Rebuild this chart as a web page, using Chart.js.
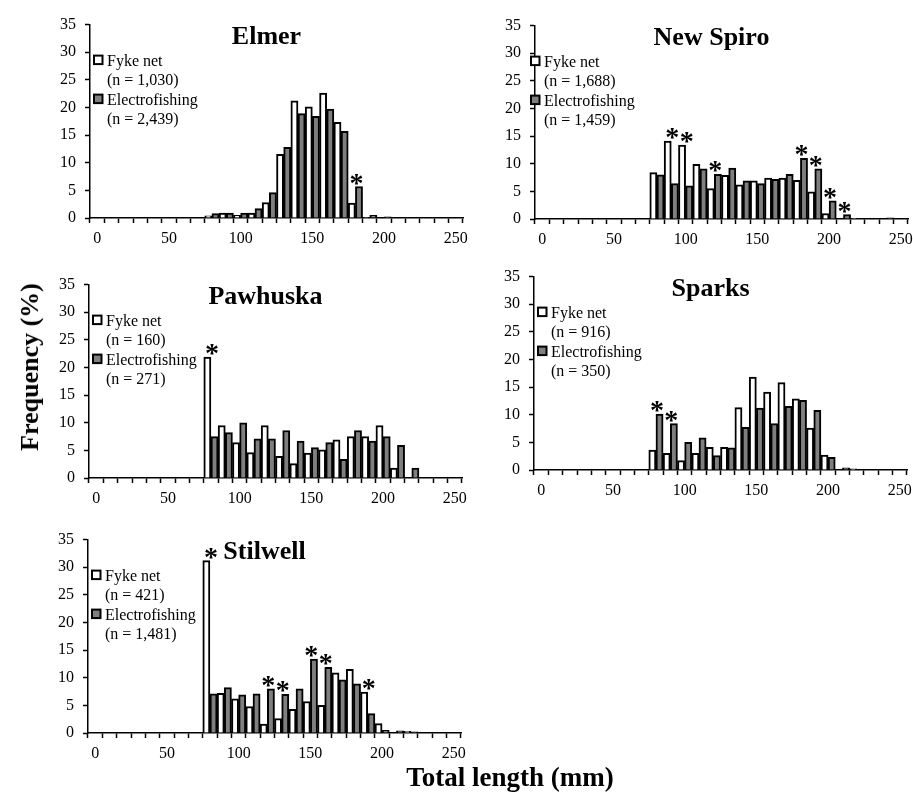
<!DOCTYPE html>
<html>
<head>
<meta charset="utf-8">
<script src="https://cdn.jsdelivr.net/npm/chart.js@4.4.1/dist/chart.umd.min.js"></script>
<style>
body{margin:0;width:913px;height:794px;background:#fff;position:relative;overflow:hidden;font-family:'Liberation Serif',serif}
canvas{position:absolute}
.ylab{position:absolute;left:30px;top:367px;transform:translate(-50%,-50%) rotate(-90deg);font-weight:bold;font-size:26px;white-space:nowrap}
.xlab{position:absolute;left:510px;top:764px;transform:translateX(-50%);font-weight:bold;font-size:27px;line-height:27px;white-space:nowrap}
</style>
</head>
<body>
<canvas id="elmer" width="447" height="247"></canvas>
<canvas id="spiro" width="447" height="247"></canvas>
<canvas id="pawhuska" width="447" height="247"></canvas>
<canvas id="sparks" width="447" height="247"></canvas>
<canvas id="stilwell" width="447" height="247"></canvas>
<div class="ylab">Frequency (%)</div>
<div class="xlab">Total length (mm)</div>
<script>
// 10 mm length bins (category axis)
var lengthBins = ["0","10","20","30","40","50","60","70","80","90","100","110","120","130","140","150","160","170","180","190","200","210","220","230","240","250"]
var yTicks = [0,5,10,15,20,25,30,35]

var elmerFyke = [null,null,null,null,null,null,null,null,0.4,0.9,0.5,0.9,2.8,11.5,21.2,20.1,22.6,17.3,2.7,0.1,null,null,null,null,null,null]
var elmerElectro = [null,null,null,null,null,null,null,null,0.8,0.9,0.9,1.7,4.6,12.8,18.9,18.4,19.7,15.7,5.7,0.5,0.2,null,null,null,null,null]
var elmerStars = ["180"]

var spiroFyke = [null,null,null,null,null,null,null,null,8.4,14.1,13.4,9.9,5.5,7.9,6.2,6.9,7.4,7.4,7.0,4.9,1.0,null,0.1,null,null,null]
var spiroElectro = [null,null,null,null,null,null,null,null,8.0,6.4,6.0,9.1,8.1,9.2,6.9,6.4,7.2,8.1,11.0,9.1,3.3,0.8,null,null,0.2,null]
var spiroStars = ["90","100","120","180","190","200","210"]

var pawFyke = [null,null,null,null,null,null,null,null,21.9,9.5,6.4,4.6,9.5,3.9,2.6,4.5,5.1,6.9,7.5,7.5,9.5,1.8,null,null,null,null]
var pawElectro = [null,null,null,null,null,null,null,null,7.5,8.2,10.0,7.1,7.1,8.6,6.7,5.5,6.4,3.4,8.6,6.7,7.5,5.9,1.8,null,null,null]
var pawStars = ["80"]

var sparksFyke = [null,null,null,null,null,null,null,null,3.6,3.0,1.7,3.0,4.1,4.1,11.3,16.8,14.1,15.8,12.9,7.6,2.7,null,0.2,null,null,null]
var sparksElectro = [null,null,null,null,null,null,null,null,10.1,8.4,5.0,5.8,2.6,4.0,7.7,11.2,8.4,11.5,12.6,10.8,2.3,0.4,null,null,null,null]
var sparksStars = ["80","90"]

var stilFyke = [null,null,null,null,null,null,null,null,31.2,7.2,6.2,4.8,1.6,2.6,4.3,5.7,5.0,10.9,11.5,7.4,1.7,null,0.3,null,null,null]
var stilElectro = [null,null,null,null,null,null,null,null,7.1,8.2,6.9,7.1,8.0,7.0,8.0,13.4,11.9,9.6,8.9,3.5,0.5,0.4,0.2,null,null,null]
var stilStars = ["80","120","130","150","160","190"]

var serif = "'Liberation Serif', 'Times New Roman', serif"

// title, legend and significance stars drawn inside the plot
var extras = {
  id: 'extras',
  afterDatasetsDraw: function(chart){
    var o = chart.options.plugins.extras
    var ctx = chart.ctx, a = chart.chartArea
    var ds = chart.data.datasets
    ctx.save()
    ctx.fillStyle = '#000'
    ctx.font = 'bold 26px ' + serif
    ctx.textAlign = 'center'
    ctx.textBaseline = 'alphabetic'
    ctx.fillText(o.title, (a.left + a.right) / 2 - 10, a.top + 19)

    ctx.font = '16px ' + serif
    ctx.textAlign = 'left'
    ctx.lineWidth = 2
    ctx.strokeStyle = '#000'
    ds.forEach(function(d, i){
      var y = a.top + 41 + i * 39
      var bx = a.left + o.legendDx - 13
      ctx.fillStyle = d.backgroundColor
      ctx.fillRect(bx, y - 10, 8.5, 8.5)
      ctx.strokeRect(bx, y - 10, 8.5, 8.5)
      ctx.fillStyle = '#000'
      ctx.fillText(d.label, a.left + o.legendDx, y)
      ctx.fillText('(n = ' + o.n[i] + ')', a.left + o.legendDx, y + 19.5)
    })

    ctx.font = 'bold 28px ' + serif
    ctx.textAlign = 'center'
    var xs = chart.scales.x, ys = chart.scales.y
    o.stars.forEach(function(b){
      var i = lengthBins.indexOf(b)
      var v = Math.max(ds[0].data[i] || 0, ds[1].data[i] || 0)
      ctx.fillText('*', xs.getPixelForValue(i) + 1, ys.getPixelForValue(v) + 5)
    })
    ctx.restore()
  }
}

function makeChart(id, left, top, title, fyke, electro, n, stars, legendDx){
  var el = document.getElementById(id)
  el.style.left = left + 'px'
  el.style.top = top + 'px'
  return new Chart(el, {
    type: 'bar',
    data: {
      labels: lengthBins,
      datasets: [
        {label: 'Fyke net', data: fyke, backgroundColor: '#ffffff', borderColor: '#000', borderWidth: 2},
        {label: 'Electrofishing', data: electro, backgroundColor: '#7f7f7f', borderColor: '#000', borderWidth: 2}
      ]
    },
    options: {
      responsive: false,
      animation: false,
      events: [],
      layout: {padding: {top: 10, right: 14, left: 0, bottom: 0}},
      datasets: {bar: {categoryPercentage: 1, barPercentage: 1}},
      plugins: {
        legend: {display: false},
        tooltip: {enabled: false},
        extras: {title: title, n: n, stars: stars, legendDx: legendDx}
      },
      scales: {
        x: {
          offset: true,
          grid: {offset: true, drawOnChartArea: false, drawTicks: true, tickLength: 5, tickColor: '#000', tickWidth: 1.5},
          border: {display: true, color: '#000', width: 1.5},
          ticks: {
            autoSkip: false, maxRotation: 0, padding: 6, color: '#000',
            font: {family: serif, size: 16},
            callback: function(v, i){ return i % 5 === 0 ? this.getLabelForValue(v) : '' }
          },
          afterFit: function(s){ s.height = 35 }
        },
        y: {
          min: 0, max: 35,
          afterBuildTicks: function(s){ s.ticks = yTicks.map(function(v){ return {value: v} }) },
          grid: {drawOnChartArea: false, drawTicks: true, tickLength: 5, tickColor: '#000', tickWidth: 1.5},
          border: {display: true, color: '#000', width: 1.5},
          ticks: {padding: 9, color: '#000', font: {family: serif, size: 16}},
          afterFit: function(s){ s.width = 60 }
        }
      }
    },
    plugins: [extras]
  })
}

makeChart('elmer', 30, 6, 'Elmer', elmerFyke, elmerElectro, ['1,030', '2,439'], elmerStars, 17)
makeChart('spiro', 475, 7, 'New Spiro', spiroFyke, spiroElectro, ['1,688', '1,459'], spiroStars, 9)
makeChart('pawhuska', 29, 266, 'Pawhuska', pawFyke, pawElectro, ['160', '271'], pawStars, 17)
makeChart('sparks', 474, 258, 'Sparks', sparksFyke, sparksElectro, ['916', '350'], sparksStars, 17)
makeChart('stilwell', 28, 521, 'Stilwell', stilFyke, stilElectro, ['421', '1,481'], stilStars, 17)
</script>
</body>
</html>
